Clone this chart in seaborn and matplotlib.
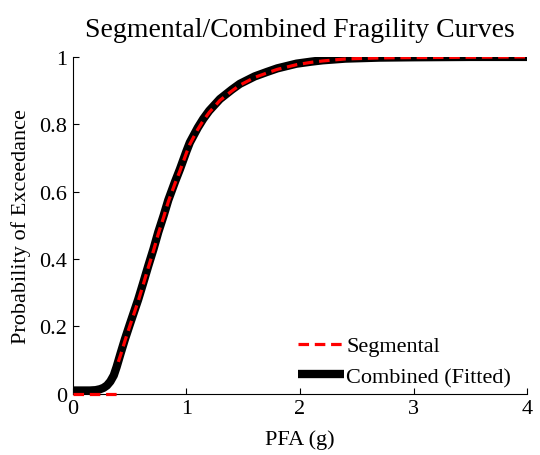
import matplotlib
matplotlib.use("Agg")
import matplotlib.pyplot as plt
import seaborn as sns
import pandas as pd

# Combined (Fitted) fragility curve
comb_x = [0.0, 0.1, 0.15, 0.2, 0.24, 0.27, 0.3, 0.33, 0.36, 0.385, 0.42, 0.458, 0.5, 0.575, 0.62,
          0.664, 0.71, 0.752, 0.8, 0.84, 0.9, 0.943, 1.0, 1.03, 1.1, 1.148, 1.2, 1.295, 1.4, 1.47,
          1.6, 1.706, 1.8, 1.97, 2.1, 2.2, 2.4, 2.7, 3.0, 3.5, 4.0]
comb_y = [0.01, 0.01, 0.01, 0.011, 0.014, 0.018, 0.025, 0.037, 0.055, 0.08, 0.12, 0.162, 0.205, 0.28, 0.33,
          0.38, 0.43, 0.48, 0.53, 0.575, 0.63, 0.667, 0.72, 0.746, 0.79, 0.816, 0.84, 0.875, 0.903, 0.92,
          0.942, 0.955, 0.966, 0.98, 0.986, 0.99, 0.995, 0.998, 0.999, 1.0, 1.0]

# Segmental fragility curve (zero below 0.4 g)
seg_low_x = [0.0, 0.2, 0.42]
seg_low_y = [0.0, 0.0, 0.0]
seg_x = [0.4, 0.42, 0.458, 0.5, 0.575, 0.62, 0.664, 0.71, 0.752, 0.8, 0.84, 0.9, 0.943, 1.0,
         1.03, 1.1, 1.148, 1.2, 1.295, 1.4, 1.47, 1.6, 1.706, 1.8, 1.97, 2.1, 2.2, 2.4, 2.7,
         3.0, 3.5, 4.0]
seg_y = [0.095, 0.115, 0.157, 0.2, 0.275, 0.325, 0.375, 0.425, 0.475, 0.525, 0.57, 0.625, 0.662, 0.715,
         0.741, 0.785, 0.811, 0.835, 0.871, 0.899, 0.916, 0.939, 0.952, 0.963, 0.977, 0.984, 0.988, 0.994,
         0.997, 0.998, 0.999, 1.0]

x_ticks = [0, 1, 2, 3, 4]
y_ticks = [0, 0.2, 0.4, 0.6, 0.8, 1]
y_tick_labels = ["0", "0.2", "0.4", "0.6", "0.8", "1"]

sns.set_style("ticks")
plt.rcParams['font.family'] = ['Liberation Serif', 'DejaVu Serif']
for k in ["text.color", "axes.labelcolor", "xtick.color", "ytick.color", "axes.edgecolor"]:
    plt.rcParams[k] = "black"

fig = plt.figure(figsize=(5.4, 4.56), dpi=100)
ax = fig.add_axes([0.135, 0.134, 0.841, 0.739])

df_c = pd.DataFrame({"x": comb_x, "y": comb_y})
df_sl = pd.DataFrame({"x": seg_low_x, "y": seg_low_y})
df_s = pd.DataFrame({"x": seg_x, "y": seg_y})

dash = (0, (3.3, 1.8))
sns.lineplot(data=df_c, x="x", y="y", ax=ax, color="black", linewidth=6, sort=False,
             label="Combined (Fitted)", zorder=2, solid_capstyle="butt", solid_joinstyle="round")
sns.lineplot(data=df_s, x="x", y="y", ax=ax, color="red", linewidth=2.3, sort=False,
             linestyle=dash, label="Segmental", zorder=3)
sns.lineplot(data=df_sl, x="x", y="y", ax=ax, color="red", linewidth=2.3, sort=False,
             linestyle=dash, zorder=4, clip_on=False)

ax.set_xlim(0, 4)
ax.set_ylim(0, 1)
ax.set_xticks(x_ticks)
ax.set_yticks(y_ticks)
ax.set_yticklabels(y_tick_labels)
ax.tick_params(direction="in", length=4, labelsize=16, width=0.8, pad=4)
for s in ["top", "right"]:
    ax.spines[s].set_visible(False)
for s in ["left", "bottom"]:
    ax.spines[s].set_linewidth(0.8)

ax.set_xlabel("PFA (g)", fontsize=16)
ax.set_ylabel("Probability of Exceedance", fontsize=16)
ax.xaxis.set_label_coords(0.5, -0.105)
ax.yaxis.set_label_coords(-0.092, 0.5)
ax.set_title("Segmental/Combined Fragility Curves", fontsize=20, pad=15)

handles, labels = ax.get_legend_handles_labels()
order = [labels.index("Segmental"), labels.index("Combined (Fitted)")]
leg = ax.legend([handles[i] for i in order], [labels[i] for i in order], loc="lower right",
                frameon=False, fontsize=16, handlelength=2.1, handletextpad=0.1,
                borderaxespad=0.0, labelspacing=0.45, bbox_to_anchor=(0.985, -0.006))

fig.savefig("out.png", dpi=100)
